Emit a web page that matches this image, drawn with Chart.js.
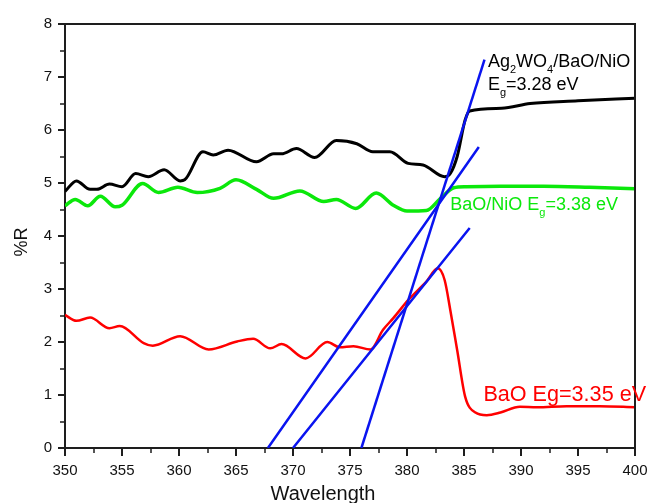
<!DOCTYPE html>
<html>
<head>
<meta charset="utf-8">
<script src="https://cdn.jsdelivr.net/npm/chart.js@4.4.1/dist/chart.umd.min.js"></script>
<style>
  html, body { margin: 0; padding: 0; background: #fff; }
  #c { display: block; }
</style>
</head>
<body>
<canvas id="c" width="649" height="503"></canvas>
<script>
// Reflectance spectra (%R vs wavelength, nm)
const wlAg = [350, 351.0, 352.2, 352.8, 353.9, 355.0, 356.2, 357.3, 358.7, 360.1, 360.5, 362.1, 363.0, 364.3,
  366.8, 368.3, 369.0, 370.3, 371.9, 373.8, 375.6, 377.0, 378.5, 380.1, 381.4, 383.3, 383.8, 384.4, 385.1,
  385.5, 388.3, 390.8, 395.0, 400];
const rAg = [4.84, 5.04, 4.88, 4.88, 4.98, 4.93, 5.18, 5.12, 5.25, 5.04, 5.06, 5.59, 5.53, 5.62,
  5.40, 5.55, 5.55, 5.65, 5.48, 5.80, 5.74, 5.59, 5.59, 5.37, 5.34, 5.12, 5.18, 5.50, 6.19,
  6.36, 6.41, 6.50, 6.55, 6.60];

const wlBaNi = [350, 350.9, 352.0, 353.1, 354.4, 355.0, 356.8, 358.2, 359.9, 361.6, 363.6, 365.0, 366.8,
  368.3, 370.6, 372.7, 373.8, 375.5, 377.3, 378.8, 380.0, 381.7, 382.9, 384.1, 385.2, 388.2, 392.0, 396.0, 400];
const rBaNi = [4.57, 4.69, 4.57, 4.75, 4.55, 4.58, 4.99, 4.82, 4.92, 4.82, 4.90, 5.06, 4.88,
  4.71, 4.85, 4.65, 4.69, 4.52, 4.81, 4.58, 4.47, 4.48, 4.70, 4.91, 4.93, 4.94, 4.94, 4.92, 4.89];

const wlBa = [350, 351.0, 352.2, 353.9, 354.8, 356.9, 357.7, 360.1, 362.6, 365.1, 366.5, 368.0, 369.0,
  371.1, 373.0, 374.1, 375.3, 376.8, 377.9, 378.8, 380.1, 381.7, 382.7, 383.3, 383.8, 384.4, 385.1,
  386.0, 387.0, 388.2, 389.9, 391.4, 394.0, 396.9, 400];
const rBa = [2.51, 2.40, 2.46, 2.26, 2.30, 1.98, 1.93, 2.11, 1.86, 2.01, 2.06, 1.88, 1.96,
  1.69, 2.00, 1.90, 1.92, 1.86, 2.23, 2.45, 2.79, 3.14, 3.39, 3.17, 2.60, 1.85, 0.97,
  0.67, 0.62, 0.67, 0.78, 0.77, 0.79, 0.79, 0.77];

// Tangent (band-edge extrapolation) lines: start and end points
const fitAgX = [376.0, 386.8];  const fitAgY = [0, 7.33];
const fitBaNiX = [367.8, 386.3]; const fitBaNiY = [0, 5.68];
const fitBaX = [370.0, 385.5];  const fitBaY = [0, 4.15];

// Axis ticks
const xTicks = [350, 355, 360, 365, 370, 375, 380, 385, 390, 395, 400];
const yTicks = [0, 1, 2, 3, 4, 5, 6, 7, 8];

const FONT = "'Liberation Sans', Arial, sans-serif";
const AXIS = '#1e1e1e';
const GREEN = '#0be80b';

function pts(xs, ys) { return xs.map((x, i) => ({ x: x, y: ys[i] })); }

function line(data, color, width, order) {
  return {
    data: data, borderColor: color, borderWidth: width, showLine: true,
    pointRadius: 0, fill: false, cubicInterpolationMode: 'monotone', order: order
  };
}

// Draws text where parts may be subscripts
function drawRuns(ctx, x, y, runs, size, color) {
  ctx.fillStyle = color;
  ctx.textBaseline = 'alphabetic';
  ctx.textAlign = 'left';
  for (const r of runs) {
    const s = r.sub ? Math.round(size * 0.6) : size;
    ctx.font = s + 'px ' + FONT;
    ctx.fillText(r.t, x, y + (r.sub ? size * 0.32 : 0));
    x += ctx.measureText(r.t).width;
  }
}

const decor = {
  id: 'decor',
  afterDraw(chart) {
    const ctx = chart.ctx;
    const a = chart.chartArea;
    const xs = chart.scales.x, ys = chart.scales.y;
    ctx.save();
    // frame on top and right
    ctx.strokeStyle = AXIS;
    ctx.lineWidth = 2;
    ctx.beginPath();
    ctx.moveTo(a.left, a.top); ctx.lineTo(a.right, a.top); ctx.lineTo(a.right, a.bottom);
    ctx.stroke();
    // minor ticks
    ctx.lineWidth = 1.5;
    ctx.beginPath();
    for (let v = 352.5; v < 400; v += 5) {
      const px = Math.round(xs.getPixelForValue(v));
      ctx.moveTo(px, a.bottom); ctx.lineTo(px, a.bottom + 5);
    }
    for (let v = 0.5; v < 8; v += 1) {
      const py = Math.round(ys.getPixelForValue(v));
      ctx.moveTo(a.left, py); ctx.lineTo(a.left - 5, py);
    }
    ctx.stroke();

    // axis titles
    ctx.fillStyle = '#111';
    ctx.font = '20px ' + FONT;
    ctx.textAlign = 'center';
    ctx.textBaseline = 'alphabetic';
    ctx.fillText('Wavelength', 323, 500);
    ctx.save();
    ctx.translate(27, 242);
    ctx.rotate(-Math.PI / 2);
    ctx.font = '18px ' + FONT;
    ctx.fillText('%R', 0, 0);
    ctx.restore();

    // series labels
    drawRuns(ctx, xs.getPixelForValue(387.1), 67,
      [{ t: 'Ag' }, { t: '2', sub: 1 }, { t: 'WO' }, { t: '4', sub: 1 }, { t: '/BaO/NiO' }], 18, '#000');
    drawRuns(ctx, xs.getPixelForValue(387.1), 90,
      [{ t: 'E' }, { t: 'g', sub: 1 }, { t: '=3.28 eV' }], 18, '#000');
    drawRuns(ctx, xs.getPixelForValue(383.8), 210,
      [{ t: 'BaO/NiO E' }, { t: 'g', sub: 1 }, { t: '=3.38 eV' }], 18, GREEN);
    drawRuns(ctx, xs.getPixelForValue(386.7), 401,
      [{ t: 'BaO Eg=3.35 eV' }], 21.6, '#ff0000');
    ctx.restore();
  }
};

new Chart(document.getElementById('c'), {
  type: 'scatter',
  data: {
    datasets: [
      line(pts(fitAgX, fitAgY), '#0a14f0', 2.5, 0),
      line(pts(fitBaNiX, fitBaNiY), '#0a14f0', 2.5, 0),
      line(pts(fitBaX, fitBaY), '#0a14f0', 2.5, 0),
      line(pts(wlAg, rAg), '#000000', 3, 1),
      line(pts(wlBaNi, rBaNi), GREEN, 3.5, 2),
      line(pts(wlBa, rBa), '#ff0000', 2.5, 3)
    ]
  },
  options: {
    responsive: false,
    devicePixelRatio: 1,
    animation: false,
    layout: { padding: { left: 0, top: 24, right: 14, bottom: 0 } },
    plugins: { legend: { display: false }, tooltip: { enabled: false } },
    scales: {
      x: {
        type: 'linear', min: 350, max: 400,
        afterFit(s) { s.height = 55; s.paddingLeft = 0; s.paddingRight = 0; },
        afterBuildTicks(s) { s.ticks = xTicks.map(v => ({ value: v })); },
        ticks: { font: { family: FONT, size: 15 }, color: '#111', padding: 6, maxRotation: 0 },
        grid: { drawOnChartArea: false, tickLength: 8, color: AXIS, lineWidth: 2 },
        border: { display: true, color: AXIS, width: 2 }
      },
      y: {
        type: 'linear', min: 0, max: 8,
        afterFit(s) { s.width = 65; s.paddingTop = 0; s.paddingBottom = 0; },
        afterBuildTicks(s) { s.ticks = yTicks.map(v => ({ value: v })); },
        ticks: { font: { family: FONT, size: 15 }, color: '#111', padding: 6 },
        grid: { drawOnChartArea: false, tickLength: 7, color: AXIS, lineWidth: 2 },
        border: { display: true, color: AXIS, width: 2 }
      }
    }
  },
  plugins: [decor]
});
</script>
</body>
</html>
